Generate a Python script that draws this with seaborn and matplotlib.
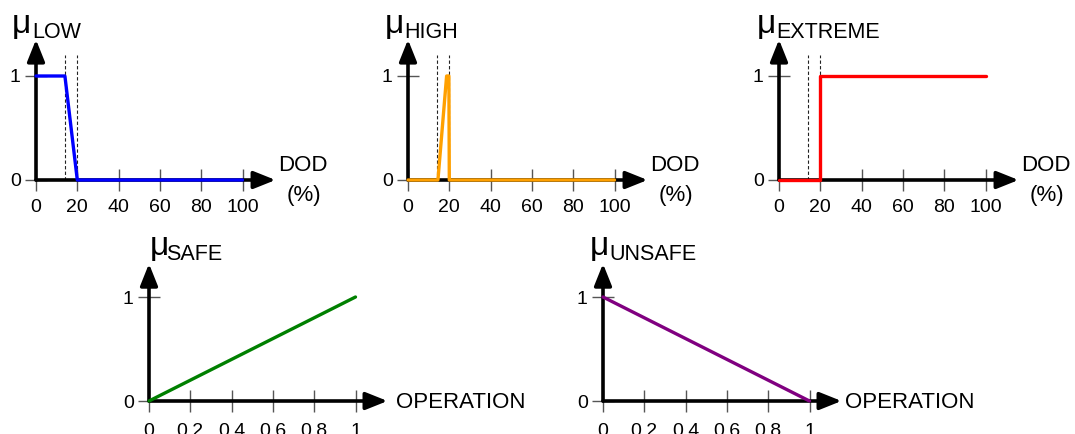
import matplotlib
matplotlib.use("Agg")
import matplotlib.pyplot as plt
import seaborn as sns
from matplotlib.patches import ArrowStyle

# ---------------- data ----------------
dod_ticks = [0, 20, 40, 60, 80, 100]
dod_tick_labels = ["0", "20", "40", "60", "80", "100"]
op_ticks = [0, 0.2, 0.4, 0.6, 0.8, 1]
op_tick_labels = ["0", "0.2", "0.4", "0.6", "0.8", "1"]
mu_ticks = [0, 1]
mu_tick_labels = ["0", "1"]
thresholds = [14, 20]

low_x = [0, 14, 20, 100]
low_y = [1, 1, 0, 0]
high_x = [0, 14.5, 18.7, 19.8, 20, 100]
high_y = [0, 0, 1, 1, 0, 0]
extreme_x = [0, 20, 20, 100]
extreme_y = [0, 0, 1, 1]
safe_x = [0, 1]
safe_y = [0, 1]
unsafe_x = [0, 1]
unsafe_y = [1, 0]

names = ["LOW", "HIGH", "EXTREME", "SAFE", "UNSAFE"]
colors = ["#0000FF", "#FFA000", "#FF0000", "#008000", "#800080"]

sns.set_style("white")
plt.rcParams['font.family'] = ['Liberation Sans', 'DejaVu Sans']
plt.rcParams['text.color'] = 'black'

W, H = 1075, 434
fig = plt.figure(figsize=(W / 100, H / 100), dpi=100)


def make_ax(ox, oy, sx, sy, xlim, ylim):
    left = ox + xlim[0] * sx
    right = ox + xlim[1] * sx
    top = oy - ylim[1] * sy
    bottom = oy - ylim[0] * sy
    ax = fig.add_axes([left / W, (H - bottom) / H, (right - left) / W, (bottom - top) / H])
    ax.patch.set_alpha(0)
    return ax


def panel(ax, x, y, color, xlim, ylim, xtip, ytip, xticks, xticklabels, dashed, xpad):
    if dashed:
        ax.vlines(thresholds, 0, 1.2, colors="#222222", linestyles=(0, (3, 2)),
                  lw=0.8, zorder=1)
    arrow = ArrowStyle('-|>', head_length=0.6, head_width=0.24)
    for tip in [(xtip, 0), (0, ytip)]:
        ax.annotate("", xy=tip, xytext=(0, 0),
                    arrowprops=dict(arrowstyle=arrow, mutation_scale=22, lw=2.6,
                                    color="black", shrinkA=0, shrinkB=0),
                    zorder=2, annotation_clip=False)
    sns.lineplot(x=x, y=y, ax=ax, color=color, lw=2.4, sort=False, estimator=None,
                 legend=False, zorder=3, clip_on=False)
    ax.set_xlim(xlim)
    ax.set_ylim(ylim)
    ax.set_xlabel("")
    ax.set_ylabel("")
    for s in ax.spines.values():
        s.set_visible(False)
    ax.spines['bottom'].set_position(('data', 0))
    ax.spines['left'].set_position(('data', 0))
    ax.set_xticks(xticks)
    ax.set_xticklabels(xticklabels)
    ax.set_yticks(mu_ticks)
    ax.set_yticklabels(mu_tick_labels)
    ax.tick_params(bottom=True, left=True, top=False, right=False,
                   direction='inout', length=16, width=1.0, color="#555555",
                   labelsize=14, labelcolor="black")
    ax.tick_params(axis='x', pad=xpad)
    ax.tick_params(axis='y', pad=3)


# ---------------- top row (DOD) ----------------
top_origins = [36, 408, 779]
top_series = [(low_x, low_y), (high_x, high_y), (extreme_x, extreme_y)]
sx_top, sy = 2.065, 104
top_xlim = (-17, 120)
ylim = (-0.35, 1.42)
for i, ox in enumerate(top_origins):
    ax = make_ax(ox, 180, sx_top, sy, top_xlim, ylim)
    panel(ax, top_series[i][0], top_series[i][1], colors[i], top_xlim, ylim,
          116, 1.35, dod_ticks, dod_tick_labels, True, 6)
    ax.annotate("DOD", xy=(116, 0), xytext=(3, 9), textcoords='offset pixels',
                ha='left', va='baseline', fontsize=16, annotation_clip=False)
    ax.annotate("(%)", xy=(116, 0), xytext=(28, -21), textcoords='offset pixels',
                ha='center', va='baseline', fontsize=16, annotation_clip=False)

# ---------------- bottom row (OPERATION) ----------------
bot_origins = [149, 603]
bot_series = [(safe_x, safe_y), (unsafe_x, unsafe_y)]
sx_bot = 206.5
bot_xlim = (-0.17, 1.2)
text_off = [8, 3]
for j, ox in enumerate(bot_origins):
    ax = make_ax(ox, 401, sx_bot, sy, bot_xlim, ylim)
    panel(ax, bot_series[j][0], bot_series[j][1], colors[3 + j], bot_xlim, ylim,
          1.155, 1.32, op_ticks, op_tick_labels, False, 7.5)
    ax.annotate("OPERATION", xy=(1.155, 0), xytext=(text_off[j], -7),
                textcoords='offset pixels', ha='left', va='baseline',
                fontsize=16, annotation_clip=False)

# ---------------- titles (mu + subscript) ----------------
title_pos = [(12, 33, 32, 37.5), (385, 33, 404, 37.5), (757, 33, 776, 37.5),
             (150, 255, 166, 259.5), (590, 255, 609, 259.5)]
for name, (mx, my, sxp, syp) in zip(names, title_pos):
    fig.text(mx / W, 1 - my / H, "μ", fontsize=24, ha='left', va='baseline',
             color='black')
    fig.text(sxp / W, 1 - syp / H, name, fontsize=15.5, ha='left', va='baseline',
             color='black')

fig.savefig("out.png", dpi=100)
